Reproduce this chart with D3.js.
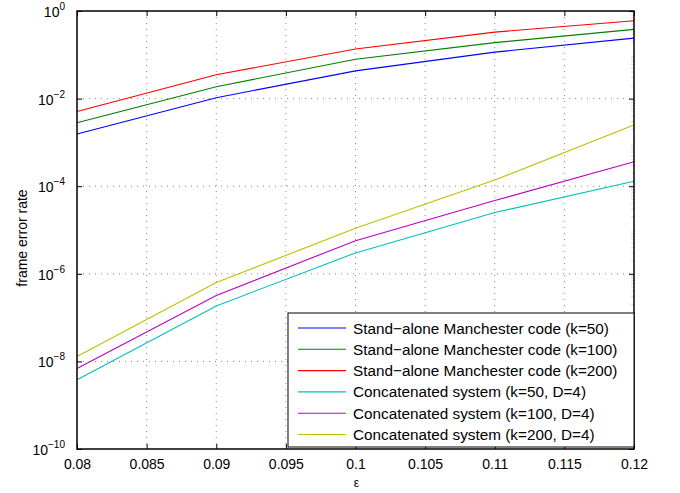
<!DOCTYPE html>
<html>
<head>
<meta charset="utf-8">
<script src="https://cdn.jsdelivr.net/npm/d3@7"></script>
<style>
  body { margin: 0; background: #fff; }
  text { font-family: "Liberation Sans", Arial, Helvetica, sans-serif; fill: #000; }
</style>
</head>
<body>
<div id="chart"></div>
<script>
// eps values where each curve was evaluated
var epsilon = [0.08, 0.09, 0.1, 0.11, 0.12];

var manchK50  = [1.55e-3, 1.05e-2, 4.3e-2, 0.115, 0.24];
var manchK100 = [2.8e-3, 1.87e-2, 7.9e-2, 0.19, 0.38];
var manchK200 = [5.1e-3, 3.5e-2, 0.136, 0.33, 0.6];
var concK50   = [3.8e-9, 1.85e-7, 3.0e-6, 2.5e-5, 1.3e-4];
var concK100  = [6.9e-9, 3.2e-7, 5.7e-6, 4.7e-5, 3.6e-4];
var concK200  = [1.3e-8, 6.3e-7, 1.1e-5, 1.38e-4, 2.5e-3];

var seriesNames = [
  "Stand\u2212alone Manchester code (k=50)",
  "Stand\u2212alone Manchester code (k=100)",
  "Stand\u2212alone Manchester code (k=200)",
  "Concatenated system (k=50, D=4)",
  "Concatenated system (k=100, D=4)",
  "Concatenated system (k=200, D=4)"
];
var seriesColors = ["#0000ff", "#008000", "#ff0000", "#00bfbf", "#bf00bf", "#bfbf00"];

var xTicks = [0.08, 0.085, 0.09, 0.095, 0.1, 0.105, 0.11, 0.115, 0.12];
var xTickLabels = ["0.08", "0.085", "0.09", "0.095", "0.1", "0.105", "0.11", "0.115", "0.12"];
var yTickExp = [0, -2, -4, -6, -8, -10];

var allSeries = [manchK50, manchK100, manchK200, concK50, concK100, concK200];

var width = 680, height = 493;
var margin = {left: 77, top: 11, right: 46, bottom: 44};
var innerW = width - margin.left - margin.right;
var innerH = height - margin.top - margin.bottom;

var svg = d3.select("#chart").append("svg")
  .attr("width", width)
  .attr("height", height);

var g = svg.append("g")
  .attr("transform", "translate(" + margin.left + "," + margin.top + ")");

var x = d3.scaleLinear().domain([0.08, 0.12]).range([0, innerW]);
var y = d3.scaleLog().domain([1e-10, 1]).range([innerH, 0]);

// grid
g.append("g").selectAll("line")
  .data(xTicks.slice(1, -1))
  .enter().append("line")
  .attr("x1", function(d) { return x(d); })
  .attr("x2", function(d) { return x(d); })
  .attr("y1", 0).attr("y2", innerH)
  .attr("stroke", "#888").attr("stroke-width", 1)
  .attr("stroke-dasharray", "1,5");

g.append("g").selectAll("line")
  .data(yTickExp.slice(1, -1))
  .enter().append("line")
  .attr("x1", 0).attr("x2", innerW)
  .attr("y1", function(d) { return y(Math.pow(10, d)); })
  .attr("y2", function(d) { return y(Math.pow(10, d)); })
  .attr("stroke", "#888").attr("stroke-width", 1)
  .attr("stroke-dasharray", "1,5");

// faint minor log ticks on the right edge
var minor = [];
for (var e = -10; e < 0; e++) {
  for (var m = 2; m <= 9; m++) minor.push(m * Math.pow(10, e));
}
g.append("g").selectAll("line")
  .data(minor)
  .enter().append("line")
  .attr("x1", innerW - 3).attr("x2", innerW)
  .attr("y1", function(d) { return y(d); })
  .attr("y2", function(d) { return y(d); })
  .attr("stroke", "#ccc").attr("stroke-width", 0.7);

// lines
var line = d3.line()
  .x(function(d, i) { return x(epsilon[i]); })
  .y(function(d) { return y(d); });

g.append("g").selectAll("path")
  .data(allSeries)
  .enter().append("path")
  .attr("d", line)
  .attr("fill", "none")
  .attr("stroke", function(d, i) { return seriesColors[i]; })
  .attr("stroke-width", 1.1);

// axes (ticks inside, MATLAB style)
var xAxis = d3.axisBottom(x).tickValues(xTicks)
  .tickFormat(function(d, i) { return xTickLabels[i]; })
  .tickSizeInner(-5).tickSizeOuter(0).tickPadding(10);
var gx = g.append("g").attr("transform", "translate(0," + innerH + ")").call(xAxis);
gx.select(".domain").remove();
gx.selectAll(".tick line").attr("stroke", "#000");
gx.selectAll("text").attr("font-size", 14);

var xTop = d3.axisTop(x).tickValues(xTicks).tickFormat("").tickSizeInner(-5).tickSizeOuter(0);
var gxt = g.append("g").call(xTop);
gxt.select(".domain").remove();

var yAxis = d3.axisLeft(y).tickValues(yTickExp.map(function(d) { return Math.pow(10, d); }))
  .tickFormat("").tickSizeInner(-5).tickSizeOuter(0);
var gy = g.append("g").call(yAxis);
gy.select(".domain").remove();

var yRight = d3.axisRight(y).tickValues(yTickExp.map(function(d) { return Math.pow(10, d); }))
  .tickFormat("").tickSizeInner(-5).tickSizeOuter(0);
var gyr = g.append("g").attr("transform", "translate(" + innerW + ",0)").call(yRight);
gyr.select(".domain").remove();

// y tick labels 10^n
var yLab = g.append("g").selectAll("text")
  .data(yTickExp)
  .enter().append("text")
  .attr("x", -12)
  .attr("y", function(d) { return y(Math.pow(10, d)) + 6; })
  .attr("text-anchor", "end")
  .attr("font-size", 14);
yLab.append("tspan").text("10");
yLab.append("tspan")
  .attr("dy", -7)
  .attr("font-size", 10)
  .text(function(d) { return d === 0 ? "0" : "\u2212" + (-d); });

// frame
g.append("rect")
  .attr("x", 0).attr("y", 0)
  .attr("width", innerW).attr("height", innerH)
  .attr("fill", "none").attr("stroke", "#000").attr("stroke-width", 1.5);

// axis labels
svg.append("text")
  .attr("x", margin.left + x(0.1) + 1)
  .attr("y", 487)
  .attr("text-anchor", "middle")
  .attr("font-size", 12)
  .text("\u03b5");

svg.append("text")
  .attr("transform", "translate(27," + (margin.top + innerH / 2 + 8) + ") rotate(-90)")
  .attr("text-anchor", "middle")
  .attr("font-size", 14)
  .text("frame error rate");

// legend
var legX = 211, legY = 302, legW = 346, legH = 134;
var leg = g.append("g").attr("transform", "translate(" + legX + "," + legY + ")");
leg.append("rect")
  .attr("width", legW).attr("height", legH)
  .attr("fill", "#fff").attr("stroke", "#000").attr("stroke-width", 1);

var rows = leg.selectAll("g.row")
  .data(seriesNames)
  .enter().append("g")
  .attr("class", "row")
  .attr("transform", function(d, i) { return "translate(0," + (15 + i * 21.3) + ")"; });
rows.append("line")
  .attr("x1", 10).attr("x2", 58)
  .attr("stroke", function(d, i) { return seriesColors[i]; })
  .attr("stroke-width", 1.1);
rows.append("text")
  .attr("x", 65).attr("y", 5.5)
  .attr("font-size", 15.3)
  .text(function(d) { return d; });
</script>
</body>
</html>
